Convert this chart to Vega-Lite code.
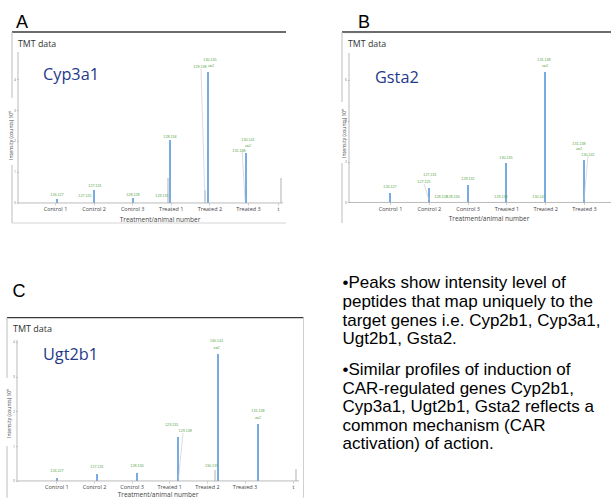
{
  "$schema": "https://vega.github.io/schema/vega-lite/v6.json",
  "padding": 0,
  "autosize": {"type": "pad"},
  "background": "white",
  "config": {"view": {"stroke": null}, "axis": {"labelOverlap": false}},
  "datasets": {
    "peaksA": [
      {"pos": 1.0518, "val": 0.129, "series": "reporter"},
      {"pos": 2.0103, "val": 0.419, "series": "reporter"},
      {"pos": 3.0207, "val": 0.161, "series": "reporter"},
      {"pos": 3.9793, "val": 2.032, "series": "reporter"},
      {"pos": 3.9275, "val": 0.806, "series": "other"},
      {"pos": 4.886, "val": 0.419, "series": "other"},
      {"pos": 4.9637, "val": 4.226, "series": "reporter"},
      {"pos": 5.9482, "val": 1.613, "series": "reporter"},
      {"pos": 6.8549, "val": 0.806, "series": "other"}
    ],
    "leadersA": [
      {"pos": 4.7823, "val": 4.323, "pos2": 4.886, "val2": 0.097},
      {"pos": 5.8446, "val": 1.71, "pos2": 5.9223, "val2": 0.097}
    ],
    "labelsA": [
      {"pos": 1.0518, "val": 0.2258, "label": "126.127"},
      {"pos": 2.0363, "val": 0.5161, "label": "127.131"},
      {"pos": 1.7772, "val": 0.1935, "label": "127.125"},
      {"pos": 3.0207, "val": 0.2258, "label": "128.128"},
      {"pos": 3.9793, "val": 2.0968, "label": "128.134"},
      {"pos": 3.772, "val": 0.1935, "label": "129.131"},
      {"pos": 4.7565, "val": 4.3548, "label": "129.138"},
      {"pos": 5.0156, "val": 4.5806, "label": "130.135"},
      {"pos": 5.0415, "val": 4.3871, "label": "z=2"},
      {"pos": 6.0, "val": 2.0, "label": "130.141"},
      {"pos": 6.0, "val": 1.8065, "label": "z=2"},
      {"pos": 5.7668, "val": 1.6452, "label": "131.138"}
    ],
    "peaksB": [
      {"pos": 1.0, "val": 0.465, "series": "reporter"},
      {"pos": 2.0052, "val": 0.71, "series": "reporter"},
      {"pos": 3.0103, "val": 0.857, "series": "reporter"},
      {"pos": 3.9897, "val": 1.933, "series": "reporter"},
      {"pos": 4.9948, "val": 6.388, "series": "reporter"},
      {"pos": 6.0, "val": 2.08, "series": "reporter"}
    ],
    "leadersB": [
      {"pos": 1.8763, "val": 0.9055, "pos2": 2.0052, "val2": 0.1224},
      {"pos": 6.1031, "val": 2.276, "pos2": 6.0, "val2": 0.1224}
    ],
    "labelsB": [
      {"pos": 1.0, "val": 0.7097, "label": "126.127"},
      {"pos": 1.8763, "val": 0.9545, "label": "127.125"},
      {"pos": 2.0309, "val": 1.2971, "label": "127.131"},
      {"pos": 2.3144, "val": 0.2203, "label": "128.128"},
      {"pos": 2.6237, "val": 0.2203, "label": "128.134"},
      {"pos": 3.0103, "val": 1.1013, "label": "129.131"},
      {"pos": 3.8608, "val": 0.2203, "label": "129.138"},
      {"pos": 3.9897, "val": 2.1292, "label": "130.135"},
      {"pos": 4.8402, "val": 0.2203, "label": "130.141"},
      {"pos": 4.9691, "val": 6.9261, "label": "131.138"},
      {"pos": 4.9948, "val": 6.6324, "label": "z=2"},
      {"pos": 5.8711, "val": 2.8145, "label": "131.138"},
      {"pos": 5.8711, "val": 2.5698, "label": "z=2"},
      {"pos": 6.1031, "val": 2.2761, "label": "130.141"}
    ],
    "peaksC": [
      {"pos": 1.0159, "val": 0.0863, "series": "reporter"},
      {"pos": 2.0789, "val": 0.2014, "series": "reporter"},
      {"pos": 3.1419, "val": 0.2302, "series": "reporter"},
      {"pos": 4.2315, "val": 1.2662, "series": "reporter"},
      {"pos": 5.2147, "val": 0.3165, "series": "other"},
      {"pos": 5.2944, "val": 3.6547, "series": "reporter"},
      {"pos": 6.3574, "val": 1.6403, "series": "reporter"},
      {"pos": 7.3672, "val": 0.3453, "series": "other"}
    ],
    "leadersC": [
      {"pos": 4.3643, "val": 1.3813, "pos2": 4.2448, "val2": 0.0576}
    ],
    "labelsC": [
      {"pos": 1.0159, "val": 0.259, "label": "126.127"},
      {"pos": 2.0789, "val": 0.3741, "label": "127.131"},
      {"pos": 3.1419, "val": 0.4029, "label": "128.134"},
      {"pos": 4.0652, "val": 1.594, "label": "129.131"},
      {"pos": 4.4243, "val": 1.4101, "label": "129.138"},
      {"pos": 5.124, "val": 0.4029, "label": "130.135"},
      {"pos": 5.2569, "val": 4.0, "label": "130.141"},
      {"pos": 5.2569, "val": 3.7986, "label": "z=2"},
      {"pos": 6.3574, "val": 1.9868, "label": "131.138"},
      {"pos": 6.3574, "val": 1.7842, "label": "z=2"}
    ],
    "notes": [
      {"para": 1, "text": "•Peaks show intensity level of\npeptides that map uniquely to the\ntarget genes i.e. Cyp2b1, Cyp3a1,\nUgt2b1, Gsta2."},
      {"para": 2, "text": "•Similar profiles of induction of\nCAR-regulated genes Cyp2b1,\nCyp3a1, Ugt2b1, Gsta2 reflects a\ncommon mechanism (CAR\nactivation) of action."}
    ]
  },
  "hconcat": [
    {
      "vconcat": [
        {
          "width": 304,
          "height": 230,
          "layer": [
            {"data": {"name": "peaksA"}, "mark": {"type": "rule", "strokeCap": "butt"},
              "encoding": {
                "x": {"field": "pos", "type": "quantitative",
                  "scale": {"domain": [-0.42487, 7.45078], "nice": false, "zero": false},
                  "axis": {"values": [1, 2, 3, 4, 5, 6, 6.78],
                    "labelExpr": "datum.value <= 3 ? 'Control ' + datum.value : datum.value <= 6 ? 'Treated ' + (datum.value - 3) : 't'",
                    "domain": false, "grid": false, "tickSize": 2, "tickColor": "#aaaaaa", "tickWidth": 0.6,
                    "labelFont": "Open Sans", "labelFontSize": 5.5, "labelColor": "#444444", "labelPadding": 1.5,
                    "labelFlush": false, "labelOverlap": false, "offset": -27,
                    "title": "Treatment/animal number", "titleFont": "Open Sans", "titleFontSize": 6.5, "titleFontWeight": "normal",
                    "titleColor": "#444444", "titleX": 159.5, "titleY": 16, "titleBaseline": "middle"}},
                "y": {"field": "val", "type": "quantitative",
                  "scale": {"domain": [-0.87097, 6.54839], "nice": false, "zero": false},
                  "axis": {"values": [0, 1, 2, 3, 4], "domain": false, "grid": false, "tickSize": 1.5, "tickColor": "#999999", "tickWidth": 0.6,
                    "labelFont": "Open Sans", "labelFontSize": 3.5, "labelColor": "#777777", "labelPadding": 1,
                    "labelFlush": false, "labelOverlap": false, "offset": -18,
                    "title": "Intensity (counts) 10⁶", "titleFont": "Open Sans", "titleFontSize": 5, "titleFontWeight": "normal",
                    "titleColor": "#444444", "titleAngle": 270, "titleX": -8, "titleY": 135, "titleBaseline": "middle", "titleAlign": "center"}},
                "y2": {"datum": 0},
                "color": {"field": "series", "type": "nominal", "scale": {"domain": ["reporter", "other"], "range": ["#6aa2e0", "#b8b8b8"]}, "legend": null},
                "strokeWidth": {"field": "series", "type": "ordinal", "scale": {"domain": ["reporter", "other"], "range": [1.8, 1.1]}, "legend": null}}},
            {"data": {"values": [{}]}, "mark": {"type": "rule", "color": "#3a3a3a", "strokeWidth": 1.3},
              "encoding": {"x": {"datum": -0.114}, "x2": {"datum": 6.9845}, "y": {"datum": 5.5161}}},
            {"data": {"values": [{}]}, "mark": {"type": "rule", "color": "#bdbdbd", "strokeWidth": 1},
              "encoding": {"x": {"datum": -0.114}, "y": {"datum": 5.5161}, "y2": {"datum": 3.3871}}},
            {"data": {"values": [{}]}, "mark": {"type": "rule", "color": "#bdbdbd", "strokeWidth": 1},
              "encoding": {"x": {"datum": -0.114}, "y": {"datum": 1.2258}, "y2": {"datum": -0.6452}}},
            {"data": {"values": [{}]}, "mark": {"type": "rule", "color": "#d4d4d4", "strokeWidth": 1},
              "encoding": {"x": {"datum": -0.114}, "x2": {"datum": 6.9845}, "y": {"datum": -0.6452}}},
            {"data": {"values": [{}]}, "mark": {"type": "rule", "color": "#a8a8a8", "strokeWidth": 0.8},
              "encoding": {"x": {"datum": 0.04145}, "y": {"datum": 4.871}, "y2": {"datum": 0.001}}},
            {"data": {"values": [{}]}, "mark": {"type": "rule", "color": "#a8a8a8", "strokeWidth": 0.8},
              "encoding": {"x": {"datum": 0.04145}, "x2": {"datum": 6.9067}, "y": {"datum": 0.001}}},
            {"data": {"values": [{}]}, "mark": {"type": "text", "text": "A", "font": "Liberation Sans", "fontSize": 18, "align": "left", "baseline": "alphabetic", "color": "#000000"},
              "encoding": {"x": {"datum": -0.0104}, "y": {"datum": 5.645}}},
            {"data": {"values": [{}]}, "mark": {"type": "text", "text": "TMT data", "font": "Open Sans", "fontSize": 8.8, "align": "left", "baseline": "alphabetic", "color": "#333333"},
              "encoding": {"x": {"datum": 0.04145}, "y": {"datum": 5.032}}},
            {"data": {"values": [{}]}, "mark": {"type": "text", "text": "Cyp3a1", "font": "Open Sans", "fontSize": 16.3, "align": "left", "baseline": "alphabetic", "color": "#1f3a8a"},
              "encoding": {"x": {"datum": 0.6891}, "y": {"datum": 3.968}}},
            {"data": {"name": "leadersA"}, "mark": {"type": "rule", "color": "#c4c4c4", "strokeWidth": 0.6},
              "encoding": {"x": {"field": "pos", "type": "quantitative"}, "y": {"field": "val", "type": "quantitative"}, "x2": {"field": "pos2"}, "y2": {"field": "val2"}}},
            {"data": {"name": "labelsA"}, "mark": {"type": "text", "font": "Liberation Sans", "fontSize": 3.7, "color": "#5aa84a", "align": "center", "baseline": "alphabetic"},
              "encoding": {"x": {"field": "pos", "type": "quantitative"}, "y": {"field": "val", "type": "quantitative"}, "text": {"field": "label"}}}
          ]
        },
        {
          "width": 304,
          "height": 268,
          "layer": [
            {"data": {"name": "peaksC"}, "mark": {"type": "rule", "strokeCap": "butt"},
              "encoding": {
                "x": {"field": "pos", "type": "quantitative",
                  "scale": {"domain": [-0.4988, 7.57986], "nice": false, "zero": false},
                  "axis": {"values": [1, 2, 3, 4, 5, 6, 7.2875],
                    "labelExpr": "datum.value <= 3 ? 'Control ' + datum.value : datum.value <= 6 ? 'Treated ' + (datum.value - 3) : 't'",
                    "domain": false, "grid": false, "tickSize": 2, "tickColor": "#aaaaaa", "tickWidth": 0.6,
                    "labelFont": "Open Sans", "labelFontSize": 5.5, "labelColor": "#444444", "labelPadding": 1.5,
                    "labelFlush": false, "labelOverlap": false, "offset": -17,
                    "title": "Treatment/animal number", "titleFont": "Open Sans", "titleFontSize": 6.5, "titleFontWeight": "normal",
                    "titleColor": "#444444", "titleX": 157.5, "titleY": 13, "titleBaseline": "middle"}},
                "y": {"field": "val", "type": "quantitative",
                  "scale": {"domain": [-0.48921, 7.22302], "nice": false, "zero": false},
                  "axis": {"values": [0, 1, 2, 3, 4], "domain": false, "grid": false, "tickSize": 1.5, "tickColor": "#999999", "tickWidth": 0.6,
                    "labelFont": "Open Sans", "labelFontSize": 3.5, "labelColor": "#777777", "labelPadding": 1,
                    "labelFlush": false, "labelOverlap": false, "offset": -17,
                    "title": "Intensity (counts) 10⁶", "titleFont": "Open Sans", "titleFontSize": 5, "titleFontWeight": "normal",
                    "titleColor": "#444444", "titleAngle": 270, "titleX": -9, "titleY": 183, "titleBaseline": "middle", "titleAlign": "center"}},
                "y2": {"datum": 0},
                "color": {"field": "series", "type": "nominal", "scale": {"domain": ["reporter", "other"], "range": ["#6aa2e0", "#b8b8b8"]}, "legend": null},
                "strokeWidth": {"field": "series", "type": "ordinal", "scale": {"domain": ["reporter", "other"], "range": [1.8, 1.1]}, "legend": null}}},
            {"data": {"values": [{}]}, "mark": {"type": "rule", "color": "#3a3a3a", "strokeWidth": 1.3},
              "encoding": {"x": {"datum": -0.31278}, "x2": {"datum": 7.5666}, "y": {"datum": 4.6993}}},
            {"data": {"values": [{}]}, "mark": {"type": "rule", "color": "#bdbdbd", "strokeWidth": 1},
              "encoding": {"x": {"datum": -0.31278}, "y": {"datum": 4.6993}, "y2": {"datum": 2.964}}},
            {"data": {"values": [{}]}, "mark": {"type": "rule", "color": "#bdbdbd", "strokeWidth": 1},
              "encoding": {"x": {"datum": -0.31278}, "y": {"datum": 1.0072}, "y2": {"datum": -0.48}}},
            {"data": {"values": [{}]}, "mark": {"type": "rule", "color": "#cfcfcf", "strokeWidth": 1},
              "encoding": {"x": {"datum": 7.5666}, "y": {"datum": 4.6993}, "y2": {"datum": -0.48}}},
            {"data": {"values": [{}]}, "mark": {"type": "rule", "color": "#a8a8a8", "strokeWidth": 0.8},
              "encoding": {"x": {"datum": -0.04704}, "y": {"datum": 4.0576}, "y2": {"datum": 0.001}}},
            {"data": {"values": [{}]}, "mark": {"type": "rule", "color": "#a8a8a8", "strokeWidth": 0.8},
              "encoding": {"x": {"datum": -0.04704}, "x2": {"datum": 7.447}, "y": {"datum": 0.001}}},
            {"data": {"values": [{}]}, "mark": {"type": "text", "text": "C", "font": "Liberation Sans", "fontSize": 18, "align": "left", "baseline": "alphabetic", "color": "#000000"},
              "encoding": {"x": {"datum": -0.16662}, "y": {"datum": 5.3036}}},
            {"data": {"values": [{}]}, "mark": {"type": "text", "text": "TMT data", "font": "Open Sans", "fontSize": 9, "align": "left", "baseline": "alphabetic", "color": "#333333"},
              "encoding": {"x": {"datum": -0.15334}, "y": {"datum": 4.2878}}},
            {"data": {"values": [{}]}, "mark": {"type": "text", "text": "Ugt2b1", "font": "Open Sans", "fontSize": 16.3, "align": "left", "baseline": "alphabetic", "color": "#1f3a8a"},
              "encoding": {"x": {"datum": 0.6439}, "y": {"datum": 3.482}}},
            {"data": {"name": "leadersC"}, "mark": {"type": "rule", "color": "#c4c4c4", "strokeWidth": 0.6},
              "encoding": {"x": {"field": "pos", "type": "quantitative"}, "y": {"field": "val", "type": "quantitative"}, "x2": {"field": "pos2"}, "y2": {"field": "val2"}}},
            {"data": {"name": "labelsC"}, "mark": {"type": "text", "font": "Liberation Sans", "fontSize": 3.7, "color": "#5aa84a", "align": "center", "baseline": "alphabetic"},
              "encoding": {"x": {"field": "pos", "type": "quantitative"}, "y": {"field": "val", "type": "quantitative"}, "text": {"field": "label"}}}
          ]
        }
      ],
      "spacing": 0,
      "bounds": "flush"
    },
    {
      "vconcat": [
        {
          "width": 307,
          "height": 230,
          "layer": [
            {"data": {"name": "peaksB"}, "mark": {"type": "rule", "strokeCap": "butt"},
              "encoding": {
                "x": {"field": "pos", "type": "quantitative",
                  "scale": {"domain": [-1.19072, 6.72165], "nice": false, "zero": false},
                  "axis": {"values": [1, 2, 3, 4, 5, 6],
                    "labelExpr": "datum.value <= 3 ? 'Control ' + datum.value : 'Treated ' + (datum.value - 3)",
                    "domain": false, "grid": false, "tickSize": 2, "tickColor": "#aaaaaa", "tickWidth": 0.6,
                    "labelFont": "Open Sans", "labelFontSize": 5.5, "labelColor": "#444444", "labelPadding": 1.5,
                    "labelFlush": false, "labelOverlap": false, "offset": -27.5,
                    "title": "Treatment/animal number", "titleFont": "Open Sans", "titleFontSize": 6.5, "titleFontWeight": "normal",
                    "titleColor": "#444444", "titleX": 183.5, "titleY": 15.8, "titleBaseline": "middle"}},
                "y": {"field": "val", "type": "quantitative",
                  "scale": {"domain": [-1.3461, 9.9119], "nice": false, "zero": false},
                  "axis": {"values": [0, 1, 2, 3, 4, 5, 6, 7], "domain": false, "grid": false, "tickSize": 1.5, "tickColor": "#999999", "tickWidth": 0.6,
                    "labelFont": "Open Sans", "labelFontSize": 3.5, "labelColor": "#777777", "labelPadding": 1,
                    "labelFlush": false, "labelOverlap": false, "offset": -44,
                    "title": "Intensity (counts) 10⁶", "titleFont": "Open Sans", "titleFontSize": 5, "titleFontWeight": "normal",
                    "titleColor": "#444444", "titleAngle": 270, "titleX": -6, "titleY": 133, "titleBaseline": "middle", "titleAlign": "center"}},
                "y2": {"datum": 0},
                "color": {"field": "series", "type": "nominal", "scale": {"domain": ["reporter", "other"], "range": ["#6aa2e0", "#b8b8b8"]}, "legend": null},
                "strokeWidth": {"field": "series", "type": "ordinal", "scale": {"domain": ["reporter", "other"], "range": [1.8, 1.1]}, "legend": null}}},
            {"data": {"values": [{}]}, "mark": {"type": "rule", "color": "#3a3a3a", "strokeWidth": 1.3},
              "encoding": {"x": {"datum": -0.23711}, "x2": {"datum": 6.70877}, "y": {"datum": 8.3456}}},
            {"data": {"values": [{}]}, "mark": {"type": "rule", "color": "#d8d8d8", "strokeWidth": 0.6, "strokeDash": [1.5, 1.5]},
              "encoding": {"x": {"datum": -0.18557}, "x2": {"datum": 0.47}, "y": {"datum": 8.28}}},
            {"data": {"values": [{}]}, "mark": {"type": "rule", "color": "#bdbdbd", "strokeWidth": 1},
              "encoding": {"x": {"datum": -0.23711}, "y": {"datum": 8.3456}, "y2": {"datum": 4.9192}}},
            {"data": {"values": [{}]}, "mark": {"type": "rule", "color": "#bdbdbd", "strokeWidth": 1},
              "encoding": {"x": {"datum": -0.23711}, "y": {"datum": 1.9334}, "y2": {"datum": -1.0034}}},
            {"data": {"values": [{}]}, "mark": {"type": "rule", "color": "#a8a8a8", "strokeWidth": 0.8},
              "encoding": {"x": {"datum": -0.0567}, "y": {"datum": 7.3177}, "y2": {"datum": 0.001}}},
            {"data": {"values": [{}]}, "mark": {"type": "rule", "color": "#a8a8a8", "strokeWidth": 0.8},
              "encoding": {"x": {"datum": -0.0567}, "x2": {"datum": 6.70877}, "y": {"datum": 0.001}}},
            {"data": {"values": [{}]}, "mark": {"type": "text", "text": "B", "font": "Liberation Sans", "fontSize": 18, "align": "left", "baseline": "alphabetic", "color": "#000000"},
              "encoding": {"x": {"datum": 0.17526}, "y": {"datum": 8.5414}}},
            {"data": {"values": [{}]}, "mark": {"type": "text", "text": "TMT data", "font": "Open Sans", "fontSize": 8.8, "align": "left", "baseline": "alphabetic", "color": "#333333"},
              "encoding": {"x": {"datum": -0.08247}, "y": {"datum": 7.626}}},
            {"data": {"values": [{}]}, "mark": {"type": "text", "text": "Gsta2", "font": "Open Sans", "fontSize": 16.3, "align": "left", "baseline": "alphabetic", "color": "#1f3a8a"},
              "encoding": {"x": {"datum": 0.6134}, "y": {"datum": 5.849}}},
            {"data": {"name": "leadersB"}, "mark": {"type": "rule", "color": "#c4c4c4", "strokeWidth": 0.6},
              "encoding": {"x": {"field": "pos", "type": "quantitative"}, "y": {"field": "val", "type": "quantitative"}, "x2": {"field": "pos2"}, "y2": {"field": "val2"}}},
            {"data": {"name": "labelsB"}, "mark": {"type": "text", "font": "Liberation Sans", "fontSize": 3.7, "color": "#5aa84a", "align": "center", "baseline": "alphabetic"},
              "encoding": {"x": {"field": "pos", "type": "quantitative"}, "y": {"field": "val", "type": "quantitative"}, "text": {"field": "label"}}}
          ]
        },
        {
          "width": 307,
          "height": 268,
          "data": {"name": "notes"},
          "mark": {"type": "text", "align": "left", "baseline": "alphabetic", "font": "Liberation Sans", "fontSize": 17, "lineHeight": 18.6, "lineBreak": "\n", "color": "#000000"},
          "encoding": {
            "x": {"datum": 0, "type": "quantitative", "scale": {"domain": [-37.5, 269.5], "nice": false, "zero": false}, "axis": null},
            "y": {"field": "para", "type": "quantitative", "scale": {"domain": [0.3237, 3.422], "reverse": true, "nice": false, "zero": false}, "axis": null},
            "text": {"field": "text"}
          }
        }
      ],
      "spacing": 0,
      "bounds": "flush"
    }
  ],
  "spacing": 0
}
